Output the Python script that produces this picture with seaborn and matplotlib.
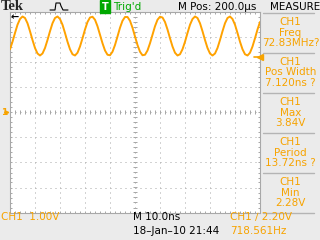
import matplotlib
matplotlib.use("Agg")
import matplotlib.pyplot as plt
from matplotlib.lines import Line2D
from matplotlib.ticker import MultipleLocator
import numpy as np
import pandas as pd
import seaborn as sns

# ---- data ----
time_ns = list(range(0, 101))  # screen time, 10 ns/div
ch1_volts = [2.53, 2.83, 3.18, 3.51, 3.74, 3.84, 3.78, 3.57, 3.25, 2.90,
             2.58, 2.36, 2.28, 2.36, 2.58, 2.90, 3.25, 3.57, 3.78, 3.84,
             3.74, 3.51, 3.18, 2.83, 2.53, 2.33, 2.28, 2.39, 2.64, 2.97,
             3.32, 3.62, 3.80, 3.83, 3.71, 3.45, 3.11, 2.77, 2.48, 2.31,
             2.29, 2.43, 2.70, 3.04, 3.39, 3.67, 3.82, 3.82, 3.67, 3.39,
             3.04, 2.70, 2.43, 2.29, 2.31, 2.48, 2.77, 3.11, 3.45, 3.71,
             3.83, 3.80, 3.62, 3.32, 2.97, 2.64, 2.39, 2.28, 2.33, 2.53,
             2.83, 3.18, 3.51, 3.74, 3.84, 3.78, 3.57, 3.25, 2.90, 2.58,
             2.36, 2.28, 2.36, 2.58, 2.90, 3.25, 3.57, 3.78, 3.84, 3.74,
             3.51, 3.18, 2.83, 2.53, 2.33, 2.28, 2.39, 2.64, 2.97, 3.32,
             3.62]
trigger_level = 2.20
measure_names = ["Freq", "Pos Width", "Max", "Period", "Min"]
measure_values = ["72.83MHz?", "7.120ns ?", "3.84V", "13.72ns ?", "2.28V"]

W, H = 320, 240
ORANGE = "#F7A300"
TRACE = "#FFA200"
GRID = "#A8A8A8"
BG = "#EBEBEB"
GREEN = "#00A800"
FONT = ["Liberation Sans Narrow", "DejaVu Sans"]

sns.set_style("white")
plt.rcParams["font.family"] = FONT

fig = plt.figure(figsize=(W / 100, H / 100), dpi=100, facecolor=BG)
ax = fig.add_axes([10 / W, 1 - 212.5 / H, 250 / W, 200 / H])
ax.set_facecolor("white")

df = pd.DataFrame({"t": time_ns, "v": ch1_volts})
sns.lineplot(data=df, x="t", y="v", ax=ax, color=TRACE, lw=1.4,
             estimator=None, zorder=5)

ax.set_xlim(0, 100)
ax.set_ylim(-4, 4)
ax.set_xlabel("")
ax.set_ylabel("")
ax.xaxis.set_major_locator(MultipleLocator(10))
ax.yaxis.set_major_locator(MultipleLocator(1))
ax.xaxis.set_minor_locator(MultipleLocator(2))
ax.yaxis.set_minor_locator(MultipleLocator(0.2))
ax.tick_params(which="both", direction="in", length=1.6, width=0.72,
               color=GRID, top=True, right=True, bottom=True, left=True,
               labelbottom=False, labelleft=False)
ax.grid(True, which="major", color=GRID, lw=0.72, linestyle=(0, (1, 4)))
for s in ax.spines.values():
    s.set_color(GRID)
    s.set_linewidth(0.8)

# centre graticule lines with minor ticks
xt = np.arange(0, 100.01, 2)
yt = np.arange(-4, 4.01, 0.2)
ax.plot(xt, np.zeros_like(xt), ls="none", marker="|", ms=2.4, mew=0.72,
        color=GRID, zorder=2)
ax.plot(np.full_like(yt, 50), yt, ls="none", marker="_", ms=2.4, mew=0.72,
        color=GRID, zorder=2)

# trigger level marker at the right edge
ax.plot([100], [trigger_level], marker="<", ms=4, color=ORANGE,
        clip_on=False, zorder=6)
ax.plot([97.6, 100], [trigger_level, trigger_level], color=ORANGE, lw=1.2,
        clip_on=False, zorder=6)
# ground marker: "1" and a small arrow pointing at 0 V
ax.annotate("", xy=(0, 0), xycoords=("axes fraction", "data"),
            xytext=(-3.8, 0), textcoords="offset points",
            arrowprops=dict(arrowstyle="-|>", color=ORANGE, lw=1.1,
                            mutation_scale=5, shrinkA=0, shrinkB=0),
            annotation_clip=False)
ax.annotate("1", xy=(1.5 / W, 0), xycoords=("figure fraction", "data"),
            ha="left", va="center", color=ORANGE, fontsize=6.5,
            fontweight="bold", annotation_clip=False)
# trigger position arrow (off-screen left)
ax.annotate("\u2190", xy=(0, 1), xycoords="axes fraction", xytext=(0.3, -3.5),
            textcoords="offset points", ha="left", va="center", color="black",
            fontsize=7, fontweight="bold", family="DejaVu Sans")


def txt(x, y, s, **kw):
    kw.setdefault("fontsize", 7.5)
    kw.setdefault("va", "center")
    fig.text(x / W, 1 - y / H, s, **kw)


# top bar
txt(0.5, 6.5, "Tek", family="Liberation Serif", fontweight="bold", fontsize=10.5)
icon_x = [50, 55, 56, 60, 61, 62, 63, 68]
icon_y = [10, 10, 3, 3, 6, 8, 10, 10]
fig.add_artist(Line2D([x / W for x in icon_x], [1 - y / H for y in icon_y],
                      color="black", lw=0.8))
txt(101.5, 6.5, "T", color="white", fontsize=7, fontweight="bold",
    bbox=dict(boxstyle="square,pad=0.15", fc=GREEN, ec=GREEN))
txt(113, 6.5, "Trig'd", color=GREEN)
txt(178, 6.5, "M Pos: 200.0\u00b5s", color="black")
txt(270, 6.5, "MEASURE", color="black")

# right measurement panel
for yy in [12.5, 52.5, 92.5, 132.5, 172.5, 212.5]:
    fig.add_artist(Line2D([263 / W, 314 / W], [1 - yy / H, 1 - yy / H],
                          color="#B4B4B4", lw=1.0))
for i, (n, v) in enumerate(zip(measure_names, measure_values)):
    top = 12.5 + 40 * i
    txt(290.5, top + 9.5, "CH1", color=ORANGE, ha="center")
    txt(290.5, top + 20, n, color=ORANGE, ha="center")
    txt(290.5, top + 30.5, v, color=ORANGE, ha="center")

# bottom status line
txt(1, 216.5, "CH1  1.00V", color=ORANGE)
txt(133, 216.5, "M 10.0ns", color="black")
txt(133, 231.5, "18\u2013Jan\u201310 21:44", color="black")
txt(230, 216.5, "CH1 \u2215 2.20V", color=ORANGE)
txt(230, 231.5, "718.561Hz", color=ORANGE)

fig.savefig("out.png", dpi=100, facecolor=BG)
